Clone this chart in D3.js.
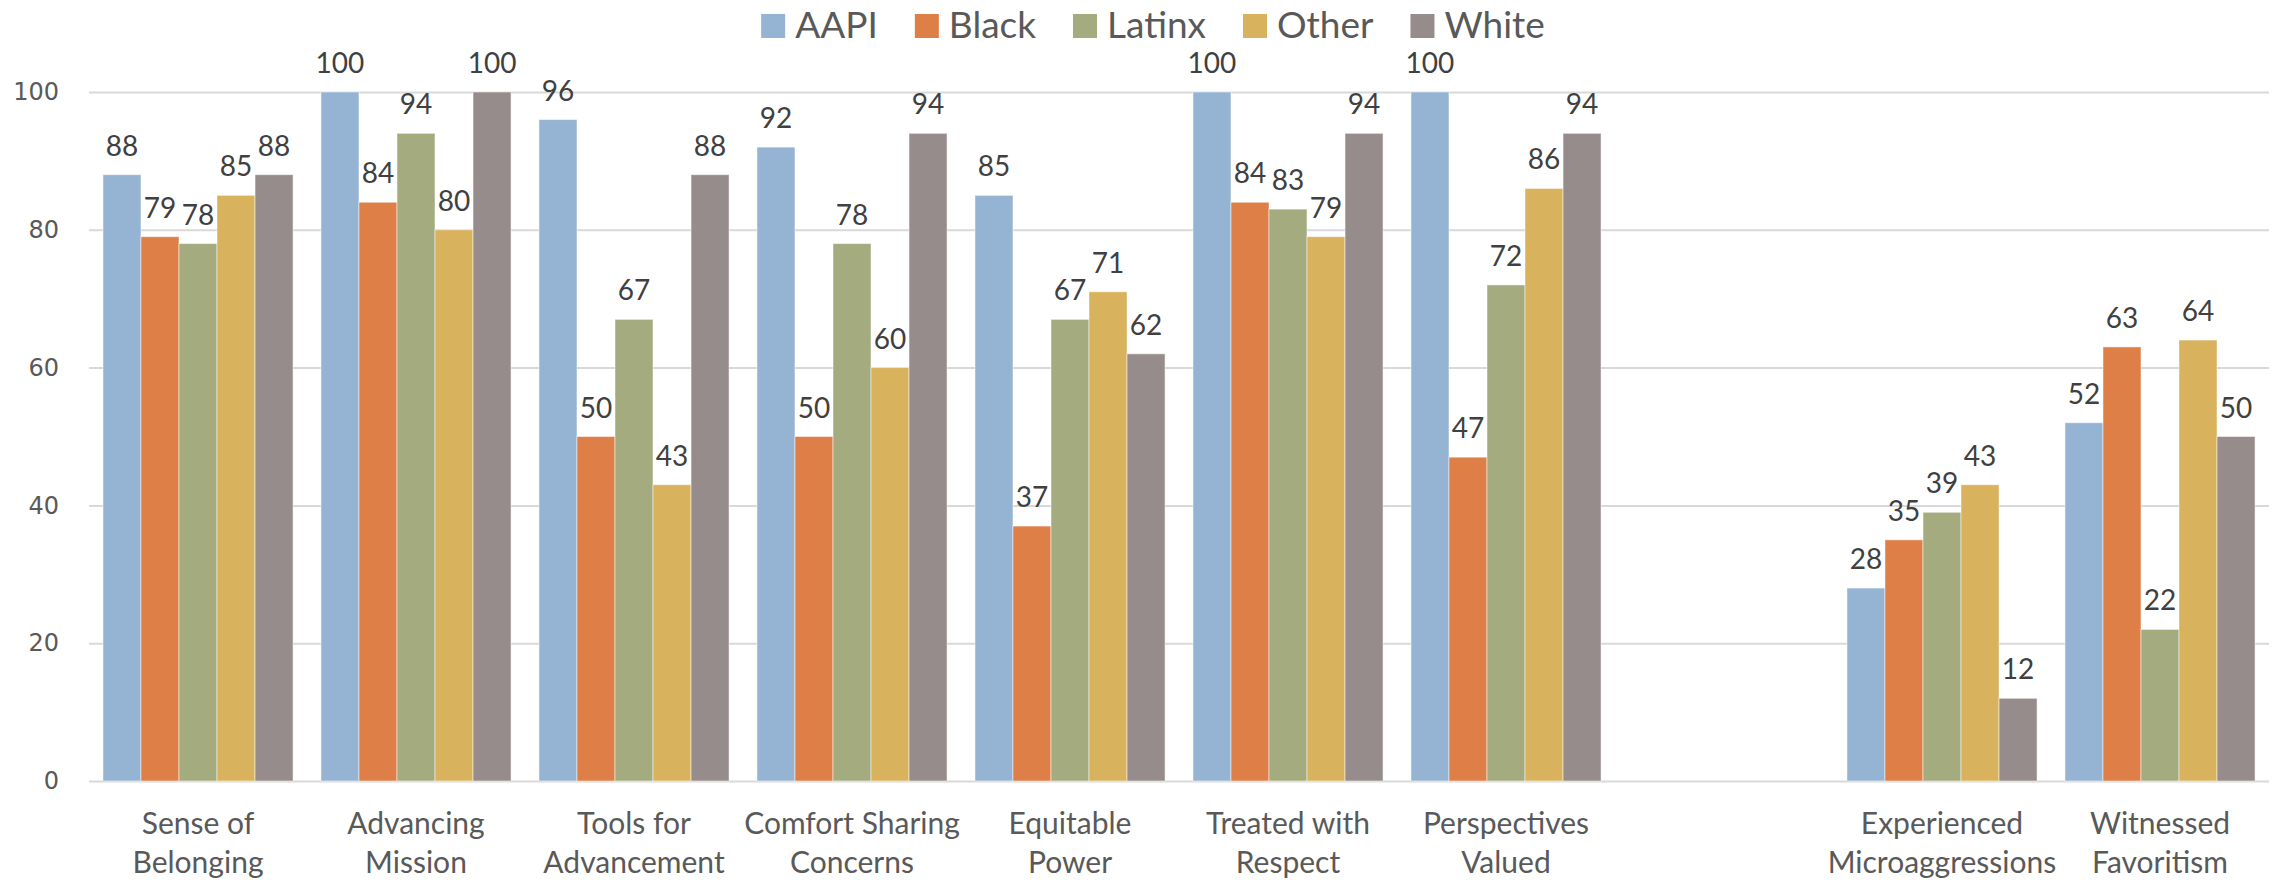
<!DOCTYPE html>
<html>
<head>
<meta charset="utf-8">
<script src="https://cdn.jsdelivr.net/npm/d3@7"></script>
<style>
  body { margin: 0; background: #fff; }
</style>
</head>
<body>
<div id="chart"></div>
<script>
'use strict'

/*
 @Data: categories (two lines each) and one array per group
*/
let categories = [
  ["Sense of", "Belonging"],
  ["Advancing", "Mission"],
  ["Tools for", "Advancement"],
  ["Comfort Sharing", "Concerns"],
  ["Equitable", "Power"],
  ["Treated with", "Respect"],
  ["Perspectives", "Valued"],
  ["", ""],
  ["Experienced", "Microaggressions"],
  ["Witnessed", "Favoritism"]
]
let seriesNames = ["AAPI", "Black", "Latinx", "Other", "White"]
let aapi   = [88, 100, 96, 92, 85, 100, 100, null, 28, 52]
let black  = [79, 84, 50, 50, 37, 84, 47, null, 35, 63]
let latinx = [78, 94, 67, 78, 67, 83, 72, null, 39, 22]
let other  = [85, 80, 43, 60, 71, 79, 86, null, 43, 64]
let white  = [88, 100, 88, 94, 62, 94, 94, null, 12, 50]
let yTicks = [0, 20, 40, 60, 80, 100]

/*
 @Constants: setup
*/
let width = 2274
let height = 880
let plot = { left: 89, right: 2269, top: 92, bottom: 781 }
let colors = ["#95B4D3", "#DD7F47", "#A4AB7E", "#D8B25D", "#968C8B"]
let labelFont = "Lato, 'Open Sans', sans-serif"

let series = [aapi, black, latinx, other, white]

let x0 = d3.scaleBand()
  .domain(d3.range(categories.length))
  .range([plot.left, plot.right])
  .paddingInner(0.128)
  .paddingOuter(0.064)

let x1 = d3.scaleBand()
  .domain(d3.range(seriesNames.length))
  .range([0, x0.bandwidth()])

let y = d3.scaleLinear()
  .domain([0, 100])
  .range([plot.bottom, plot.top])

let svg = d3.select("#chart").append("svg")
  .attr("width", width)
  .attr("height", height)

// gridlines + y labels
let yAxis = d3.axisLeft(y)
  .tickValues(yTicks)
  .tickSize(-(plot.right - plot.left))
  .tickPadding(30)

let gy = svg.append("g")
  .attr("transform", "translate(" + plot.left + ",0)")
  .call(yAxis)
gy.select(".domain").remove()
gy.selectAll(".tick line")
  .attr("stroke", "#D9D9D9")
  .attr("stroke-width", 2)
gy.selectAll(".tick text")
  .attr("fill", "#595959")
  .style("font-family", "'DejaVu Sans', sans-serif")
  .style("font-size", "24px")

// bars
let groups = svg.selectAll("g.cat")
  .data(categories)
  .enter()
  .append("g")
  .attr("class", "cat")
  .attr("transform", (d, i) => "translate(" + x0(i) + ",0)")

groups.each(function (d, ci) {
  let g = d3.select(this)
  let vals = series.map(s => s[ci])
  vals.forEach(function (v, si) {
    if (v === null) return
    g.append("rect")
      .attr("x", x1(si))
      .attr("y", y(v))
      .attr("width", x1.bandwidth())
      .attr("height", y(0) - y(v))
      .attr("fill", colors[si])
      .attr("stroke", "#fff")
      .attr("stroke-width", 1)
      .attr("stroke-opacity", 0.5)
    g.append("text")
      .attr("x", x1(si) + x1.bandwidth() / 2)
      .attr("y", y(v) - 19)
      .attr("text-anchor", "middle")
      .attr("fill", "#404040")
      .style("font-family", labelFont)
      .style("font-size", "28px")
      .text(v)
  })
})

// category labels
let cx = svg.append("g")
categories.forEach(function (lines, i) {
  let t = cx.append("text")
    .attr("text-anchor", "middle")
    .attr("fill", "#595959")
    .style("font-family", labelFont)
    .style("font-size", "30px")
  lines.forEach(function (l, k) {
    t.append("tspan")
      .attr("x", x0(i) + x0.bandwidth() / 2)
      .attr("y", plot.bottom + 53 + k * 39)
      .text(l)
  })
})

// legend
let legendSize = 24
let legend = svg.append("g")
let lx = 0
seriesNames.forEach(function (name, i) {
  let item = legend.append("g").attr("transform", "translate(" + lx + ",0)")
  item.append("rect")
    .attr("x", 0)
    .attr("y", 14)
    .attr("width", legendSize)
    .attr("height", legendSize)
    .attr("fill", colors[i])
  let t = item.append("text")
    .attr("x", legendSize + 10)
    .attr("y", 38)
    .attr("fill", "#595959")
    .style("font-family", labelFont)
    .style("font-size", "37px")
    .text(name)
  lx += legendSize + 10 + t.node().getComputedTextLength() + 37
})
let legendW = lx - 37
legend.attr("transform", "translate(" + (1153 - legendW / 2) + ",0)")
</script>
</body>
</html>
